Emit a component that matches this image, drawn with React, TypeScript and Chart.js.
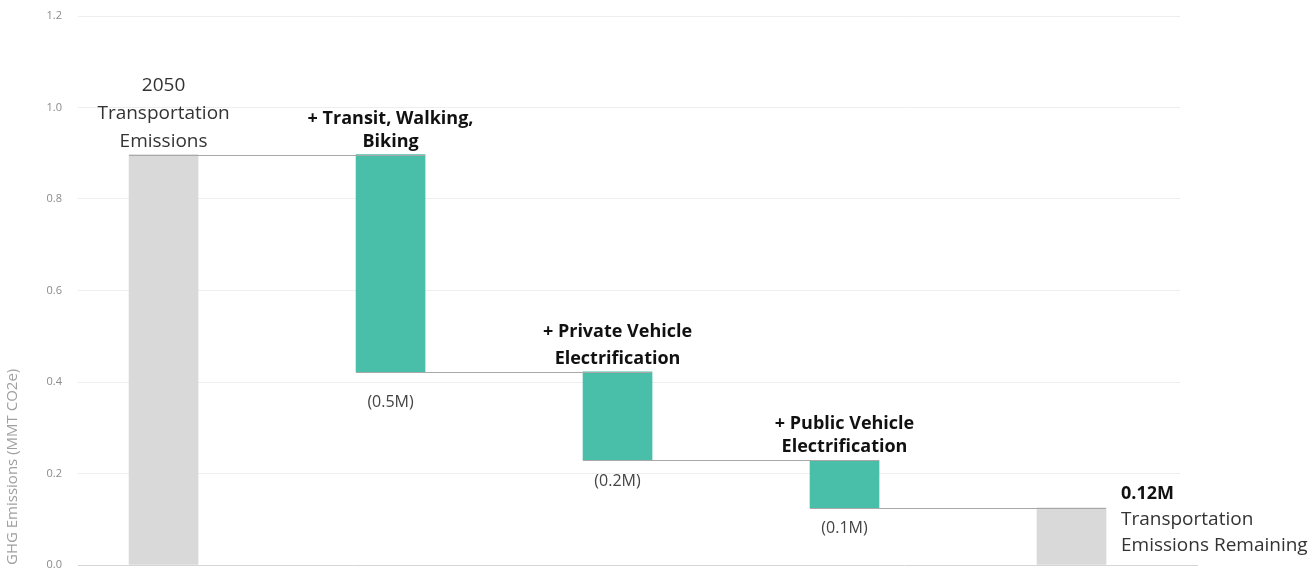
import React, { useEffect, useRef } from 'react';
import { Chart, registerables } from 'chart.js';

Chart.register(...registerables);

// ---- Data ----
const categories = [
  '2050 Transportation Emissions',
  '+ Transit, Walking, Biking',
  '+ Private Vehicle Electrification',
  '+ Public Vehicle Electrification',
  'Transportation Emissions Remaining',
];
const startTotal = 0.897;
const reductions = [0.475, 0.193, 0.104];
const remaining = 0.125;

const headingLines = [
  ['2050', 'Transportation', 'Emissions'],
  ['+ Transit, Walking,', 'Biking'],
  ['+ Private Vehicle', 'Electrification'],
  ['+ Public Vehicle', 'Electrification'],
];
const remainingLabel = ['0.12M', 'Transportation', 'Emissions Remaining'];
const reductionLabels = ['(0.5M)', '(0.2M)', '(0.1M)'];
const yTickValues = [0, 0.2, 0.4, 0.6, 0.8, 1.0, 1.2];
const yAxisTitle = 'GHG Emissions (MMT CO2e)';

// ---- Build waterfall ranges ----
const ranges: [number, number][] = [];
ranges.push([0, startTotal]);
let level = startTotal;
for (const r of reductions) {
  ranges.push([level - r, level]);
  level -= r;
}
ranges.push([0, remaining]);

const GRAY = '#d9d9d9';
const TEAL = '#49bfaa';
const barColors = [GRAY, TEAL, TEAL, TEAL, GRAY];

const labelPlugin = {
  id: 'waterfallLabels',
  beforeDatasetsDraw(chart: any) {
    const { ctx, chartArea, scales } = chart;
    const py = Math.round(scales.y.getPixelForValue(0) - 0.5) + 0.5;
    ctx.save();
    ctx.strokeStyle = '#d6d6d6';
    ctx.lineWidth = 1;
    ctx.beginPath();
    ctx.moveTo(chartArea.right - 1, py);
    ctx.lineTo(chartArea.right + 18, py);
    ctx.stroke();
    ctx.restore();
  },
  afterDatasetsDraw(chart: any) {
    const { ctx, scales } = chart;
    const x = scales.x;
    const y = scales.y;
    const meta = chart.getDatasetMeta(0);
    ctx.save();
    // connectors
    ctx.strokeStyle = '#a8a8a8';
    ctx.lineWidth = 1;
    for (let i = 0; i < ranges.length - 1; i++) {
      const lvl = i === 0 ? ranges[0][1] : ranges[i][0];
      const b0 = meta.data[i];
      const b1 = meta.data[i + 1];
      const py = Math.round(y.getPixelForValue(lvl)) + 0.5;
      ctx.beginPath();
      ctx.moveTo(b0.x - b0.width / 2, py);
      ctx.lineTo(b1.x + b1.width / 2, py);
      ctx.stroke();
    }

    ctx.textAlign = 'center';
    ctx.textBaseline = 'middle';
    // headings
    headingLines.forEach((lines, i) => {
      const top = y.getPixelForValue(ranges[i][1]);
      const cx = x.getPixelForValue(i);
      let lh: number;
      if (i === 0) {
        ctx.font = '19px "Open Sans"';
        ctx.fillStyle = '#333333';
        lh = 28;
      } else {
        ctx.font = 'bold 18px "Open Sans"';
        ctx.fillStyle = '#111111';
        lh = i === 2 ? 27 : 23;
      }
      const n = lines.length;
      lines.forEach((t, k) => {
        ctx.fillText(t, cx, top - 13 - (n - 1 - k) * lh);
      });
    });
    // reduction labels
    const offs = [31, 21, 21];
    reductionLabels.forEach((t, j) => {
      const i = j + 1;
      const bottom = y.getPixelForValue(ranges[i][0]);
      const cx = x.getPixelForValue(i);
      ctx.font = '16px "Open Sans"';
      ctx.fillStyle = '#444444';
      ctx.fillText(t, cx, bottom + offs[j]);
    });
    // remaining label
    const li = ranges.length - 1;
    const lb = meta.data[li];
    const ltop = y.getPixelForValue(ranges[li][1]);
    const lx = lb.x + lb.width / 2 + 15;
    ctx.textAlign = 'left';
    ctx.font = 'bold 18px "Open Sans"';
    ctx.fillStyle = '#111111';
    ctx.fillText(remainingLabel[0], lx, ltop - 14);
    ctx.font = '19px "Open Sans"';
    ctx.fillStyle = '#333333';
    ctx.fillText(remainingLabel[1], lx, ltop + 12);
    ctx.fillText(remainingLabel[2], lx, ltop + 38);
    ctx.restore();
  },
};

export default function App() {
  const ref = useRef<HTMLCanvasElement>(null);
  useEffect(() => {
    document.body.style.margin = '0';
    const chart = new Chart(ref.current!, {
      type: 'bar',
      data: {
        labels: categories,
        datasets: [
          {
            data: ranges.map((r, i) => ({ x: i, y: r })) as any,
            backgroundColor: barColors,
            borderWidth: 0,
            barThickness: 69,
          },
        ],
      },
      options: {
        animation: false,
        responsive: true,
        maintainAspectRatio: false,
        layout: { padding: { top: 16, right: 133, bottom: 6, left: 0 } },
        plugins: { legend: { display: false }, tooltip: { enabled: false } },
        scales: {
          x: {
            type: 'linear',
            display: false,
            offset: false,
            min: -0.377,
            max: 4.478,
          },
          y: {
            min: 0,
            max: 1.2,
            border: { display: false },
            afterFit: (s: any) => {
              s.width = 78;
              s.paddingTop = 0;
              s.paddingBottom = 0;
            },
            afterBuildTicks: (s: any) => {
              s.ticks = yTickValues.map((v) => ({ value: v }));
            },
            grid: {
              drawTicks: false,
              color: (c: any) => (c.tick && c.tick.value === 0 ? '#d6d6d6' : '#eeeeee'),
            },
            ticks: {
              padding: 16,
              color: '#8a8a8a',
              font: { family: '"Open Sans"', size: 11 },
              callback: (v: any) => Number(v).toFixed(1),
            },
            title: {
              display: true,
              text: yAxisTitle,
              align: 'start',
              color: '#a0a0a0',
              font: { family: '"Open Sans"', size: 15 },
              padding: { top: 4, bottom: 0 },
            },
          },
        },
      },
      plugins: [labelPlugin],
    });
    return () => chart.destroy();
  }, []);
  return (
    <div style={{ width: 1313, height: 571, position: 'relative' }}>
      <canvas ref={ref} />
    </div>
  );
}
